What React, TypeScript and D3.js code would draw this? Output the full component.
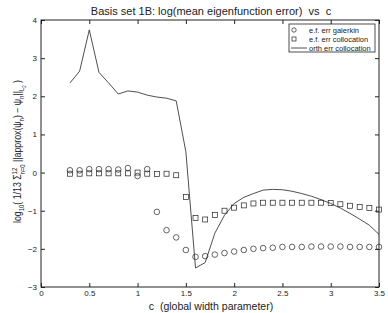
import React, { useRef, useEffect } from 'react';
import * as d3 from 'd3';

// c values for markers
const cMarkers = [0.3, 0.4, 0.5, 0.6, 0.7, 0.8, 0.9, 1.0, 1.1, 1.2, 1.3, 1.4, 1.5, 1.6, 1.7, 1.8, 1.9, 2.0,
  2.1, 2.2, 2.3, 2.4, 2.5, 2.6, 2.7, 2.8, 2.9, 3.0, 3.1, 3.2, 3.3, 3.4, 3.5];

const galerkin = [0.06, 0.06, 0.09, 0.09, 0.09, 0.08, 0.12, -0.09, 0.09, -1.03, -1.51, -1.7, -2.03, -2.21, -2.19, -2.15, -2.11, -2.07,
  -2.03, -2.0, -1.98, -1.97, -1.95, -1.95, -1.95, -1.94, -1.94, -1.94, -1.94, -1.95, -1.95, -1.95, -1.95];

const collocation = [-0.03, -0.03, -0.02, -0.02, -0.02, -0.02, -0.02, 0.0, -0.03, -0.04, -0.03, -0.07, -0.64, -1.19, -1.23, -1.11, -1.0, -0.92,
  -0.86, -0.81, -0.79, -0.79, -0.79, -0.79, -0.79, -0.79, -0.79, -0.8, -0.83, -0.87, -0.9, -0.93, -0.97];

const orthErr = [2.35, 2.66, 3.74, 2.63, 2.35, 2.06, 2.14, 2.11, 2.03, 1.98, 1.95, 1.88, 0.55, -2.5, -2.36, -1.59, -1.12, -0.81,
  -0.65, -0.55, -0.46, -0.44, -0.45, -0.49, -0.55, -0.62, -0.71, -0.81, -0.93, -1.07, -1.22, -1.38, -1.62];

const xTicks = [0, 0.5, 1, 1.5, 2, 2.5, 3, 3.5];
const yTicks = [-3, -2, -1, 0, 1, 2, 3, 4];

const W = 388;
const H = 313;
const margin = { top: 20, right: 9, bottom: 26, left: 41 };
const FONT = 'Liberation Sans, Arial, Helvetica, sans-serif';
const INK = '#222';
const NB = '\u00a0';

export default function App() {
  const svgRef = useRef<SVGSVGElement>(null);

  useEffect(() => {
    const svg = d3.select(svgRef.current);
    svg.selectAll('*').remove();

    const innerW = W - margin.left - margin.right;
    const innerH = H - margin.top - margin.bottom;

    const x = d3.scaleLinear().domain([0, 3.5]).range([margin.left, margin.left + innerW]);
    const y = d3.scaleLinear().domain([-3, 4]).range([margin.top + innerH, margin.top]);

    svg.append('rect').attr('width', W).attr('height', H).attr('fill', '#fff');

    const tickLen = 4;
    // Bottom axis
    svg.append('g')
      .attr('transform', `translate(0,${y(-3)})`)
      .call(d3.axisBottom(x).tickValues(xTicks).tickSize(-tickLen).tickPadding(3).tickFormat(d => String(d)))
      .call(g => g.select('.domain').remove())
      .call(g => g.selectAll('text').attr('font-size', 8).attr('font-family', FONT).attr('fill', INK))
      .call(g => g.selectAll('line').attr('stroke', INK));
    // Top ticks
    svg.append('g')
      .attr('transform', `translate(0,${y(4)})`)
      .call(d3.axisTop(x).tickValues(xTicks).tickSize(-tickLen).tickFormat(() => ''))
      .call(g => g.select('.domain').remove())
      .call(g => g.selectAll('line').attr('stroke', INK));
    // Left axis
    svg.append('g')
      .attr('transform', `translate(${x(0)},0)`)
      .call(d3.axisLeft(y).tickValues(yTicks).tickSize(-tickLen).tickPadding(4).tickFormat(d => String(d).replace('-', '\u2212')))
      .call(g => g.select('.domain').remove())
      .call(g => g.selectAll('text').attr('font-size', 8).attr('font-family', FONT).attr('fill', INK))
      .call(g => g.selectAll('line').attr('stroke', INK));
    // Right ticks
    svg.append('g')
      .attr('transform', `translate(${x(3.5)},0)`)
      .call(d3.axisRight(y).tickValues(yTicks).tickSize(-tickLen).tickFormat(() => ''))
      .call(g => g.select('.domain').remove())
      .call(g => g.selectAll('line').attr('stroke', INK));

    // Frame
    svg.append('rect')
      .attr('x', x(0)).attr('y', y(4))
      .attr('width', x(3.5) - x(0)).attr('height', y(-3) - y(4))
      .attr('fill', 'none').attr('stroke', INK).attr('stroke-width', 1);

    // Orth err line
    const line = d3.line<number>()
      .x((_, i) => x(cMarkers[i]))
      .y(d => y(d));
    svg.append('path')
      .datum(orthErr)
      .attr('d', line)
      .attr('fill', 'none')
      .attr('stroke', INK)
      .attr('stroke-width', 0.8);

    // Squares
    svg.append('g').selectAll('rect')
      .data(collocation)
      .enter()
      .append('rect')
      .attr('x', (_, i) => x(cMarkers[i]) - 2.5)
      .attr('y', d => y(d) - 2.5)
      .attr('width', 5)
      .attr('height', 5)
      .attr('fill', 'none')
      .attr('stroke', INK)
      .attr('stroke-width', 0.7);

    // Circles
    svg.append('g').selectAll('circle')
      .data(galerkin)
      .enter()
      .append('circle')
      .attr('cx', (_, i) => x(cMarkers[i]))
      .attr('cy', d => y(d))
      .attr('r', 2.8)
      .attr('fill', 'none')
      .attr('stroke', INK)
      .attr('stroke-width', 0.7);

    // Legend
    const lg = svg.append('g');
    lg.append('rect')
      .attr('x', 289).attr('y', 24).attr('width', 86).attr('height', 28)
      .attr('fill', '#fff').attr('stroke', INK).attr('stroke-width', 0.8);
    const rows = ['e.f. err galerkin', 'e.f. err collocation', 'orth err collocation'];
    rows.forEach((label, i) => {
      const ry = 30 + i * 9;
      if (i === 0) {
        lg.append('circle').attr('cx', 294).attr('cy', ry).attr('r', 2.2)
          .attr('fill', 'none').attr('stroke', INK).attr('stroke-width', 0.7);
      } else if (i === 1) {
        lg.append('rect').attr('x', 292).attr('y', ry - 2).attr('width', 4).attr('height', 4)
          .attr('fill', 'none').attr('stroke', INK).attr('stroke-width', 0.7);
      } else {
        lg.append('line').attr('x1', 291).attr('x2', 307).attr('y1', ry).attr('y2', ry)
          .attr('stroke', INK).attr('stroke-width', 0.8);
      }
      lg.append('text')
        .attr('x', 309).attr('y', ry + 3)
        .attr('font-size', 7.5).attr('font-family', FONT).attr('fill', INK)
        .text(label);
    });

    // Title
    svg.append('text')
      .attr('x', 211).attr('y', 15)
      .attr('text-anchor', 'middle')
      .attr('font-size', 11).attr('font-family', FONT).attr('fill', INK)
      .text(`Basis set 1B: log(mean eigenfunction error) ${NB}vs ${NB}c`);

    // X label
    svg.append('text')
      .attr('x', 211).attr('y', 310)
      .attr('text-anchor', 'middle')
      .attr('font-size', 10.5).attr('font-family', FONT).attr('fill', INK)
      .text(`c ${NB}(global width parameter)`);

    // Y label with sub/superscripts (slightly condensed along its length)
    const yl = svg.append('text')
      .attr('transform', `translate(21,${(y(4) + y(-3)) / 2 - 2}) rotate(-90) scale(0.86,1)`)
      .attr('text-anchor', 'middle')
      .attr('font-size', 10.2).attr('font-family', FONT).attr('fill', INK);
    const part = (t: string, shift = 0, size = 10.2) =>
      yl.append('tspan').attr('dy', shift).attr('font-size', size).text(t);
    part('log');
    part('10', 3, 7);
    part(`( 1/13 \u03A3`, -3, 10.2);
    part('12', -4, 7);
    yl.append('tspan').attr('dx', -8).attr('dy', 8).attr('font-size', 7).text('n=0');
    part(`${NB}||approx(\u03C8`, -4, 10.2);
    part('n', 3, 7);
    part(`) \u2212 \u03C8`, -3, 10.2);
    part('n', 3, 7);
    part('||', -3, 10.2);
    part('L', 3, 7);
    part('2', 2, 5);
    part(' )', -5, 10.2);
  }, []);

  return (
    <svg ref={svgRef} width={W} height={H} style={{ position: 'absolute', left: 0, top: 0 }} />
  );
}
